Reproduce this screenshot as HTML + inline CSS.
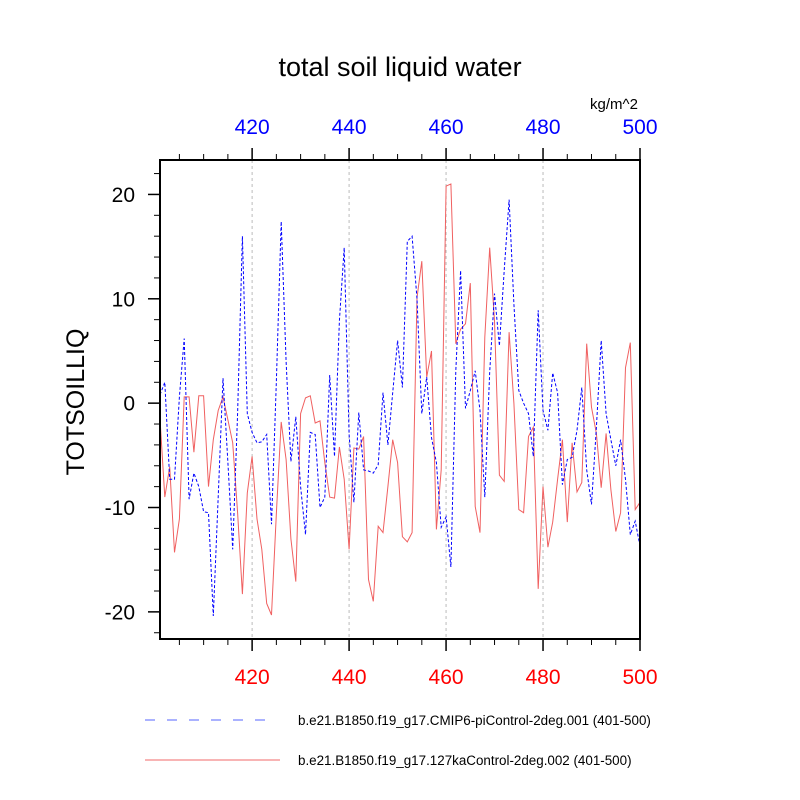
<!DOCTYPE html>
<html><head><meta charset="utf-8"><style>
body{margin:0;background:#fff;}
svg{display:block;font-family:"Liberation Sans",sans-serif;}
</style></head><body>
<svg id="chart" width="800" height="800" viewBox="0 0 800 800">
<text x="400" y="76" text-anchor="middle" font-size="27">total soil liquid water</text>
<text x="614" y="109" text-anchor="middle" font-size="15">kg/m^2</text>
<text transform="translate(84,402) rotate(-90)" text-anchor="middle" font-size="25">TOTSOILLIQ</text>
<g id="grid"></g>
<g id="series"></g>
<rect x="160" y="160" width="480" height="479" fill="none" stroke="#000" stroke-width="2"/>
<g id="axes"></g>
<g>
<line x1="145" y1="720" x2="275" y2="720" stroke="#5566ff" stroke-width="1" stroke-dasharray="10,12"/>
<text x="298" y="725" font-size="13.4">b.e21.B1850.f19_g17.CMIP6-piControl-2deg.001 (401-500)</text>
<line x1="145" y1="760" x2="280" y2="760" stroke="#f06868" stroke-width="1"/>
<text x="298" y="765" font-size="13.4">b.e21.B1850.f19_g17.127kaControl-2deg.002 (401-500)</text>
</g>
</svg>
<script>
const years = Array.from({length:100},(_,i)=>401+i);
const piControl = [0.8,2,-7.3,-7.3,0.6,6.2,-9.2,-6.7,-8,-10.4,
-10.5,-20.4,-9,2.4,-5.7,-14,-1,16,-1,-2.8,
-3.8,-3.7,-3,-11.6,2.2,17.4,4,-5.6,-1.3,-8,
-12.6,-2.8,-3,-10,-9,2.7,-5.1,7.9,14.9,-3,
-9.5,-0.9,-6.4,-6.5,-6.7,-5.9,1,-4,1,6,
1.5,15.5,16,10,-1,2.5,-3.3,-5.7,-11.9,-10.9,
-15.7,3.1,12.7,-0.5,1.2,3.1,-0.7,-9,3,10.5,
5.5,12.7,19.5,9.5,1.2,0,-1,-5.1,8.9,-0.7,
-2.6,2.9,1,-7.8,-5.4,-5.2,-2.6,1.5,-6.4,-9.7,
-2.3,6,-1,-3.5,-6,-3.5,-7.3,-12.6,-11.3,-13.7];
const ka127 = [-1.5,-9,-6.1,-14.3,-11.1,0.6,0.6,-4.7,0.7,0.7,
-8,-3.5,-0.7,0.6,-1.6,-3.8,-10.5,-18.3,-8.6,-5.1,
-11.1,-14,-19.2,-20.3,-10.5,-1.8,-5.4,-13,-17.1,-1,
0.5,0.7,-1.9,-1.7,-5.7,-9,-9.1,-4.2,-7.3,-14,
-4.3,-4.4,-3.2,-16.9,-19,-11.8,-12.4,-8,-3.5,-5.7,
-12.8,-13.3,-12.4,10.1,13.6,2.5,5,-12.1,-6.4,20.8,
21,5.7,7.1,7.6,11.5,-9.9,-12.4,6.3,14.9,7.9,
-6.9,-7.5,6.8,0,-10.2,-10.5,-3.2,-2.3,-17.8,-8,
-13.8,-11.4,-7.3,-3.5,-11.4,-3.8,-8.5,-7.6,5.7,-0.4,
-2.9,-8.1,-2.9,-8.3,-12.3,-10.5,3.4,5.8,-10.2,-9.5];
const xTicks = [420,440,460,480,500];
const yTicks = [-20,-10,0,10,20];

const NS="http://www.w3.org/2000/svg";
const X0=160,X1=640,Y0=639,Y1=160,XMIN=401,XMAX=500,YMIN=-22.6,YMAX=23.3;
const sx=v=>X0+(v-XMIN)/(XMAX-XMIN)*(X1-X0);
const sy=v=>Y0-(v-YMIN)/(YMAX-YMIN)*(Y0-Y1);
function mk(tag,attrs,parent){const e=document.createElementNS(NS,tag);for(const k in attrs)e.setAttribute(k,attrs[k]);parent.appendChild(e);return e;}
const grid=document.getElementById('grid'),series=document.getElementById('series'),axes=document.getElementById('axes');

xTicks.forEach(t=>{
  if(t<XMAX){
    const g=mk('line',{x1:sx(t),x2:sx(t),y1:Y1,y2:Y0,stroke:'#bbb','stroke-width':1,'stroke-dasharray':'3,3'},grid);
    
    
  }
  const a=mk('line',{x1:sx(t),x2:sx(t),y1:Y0,y2:Y0+12,stroke:'#000','stroke-width':1.5},axes);
  
  
  const b=mk('line',{x1:sx(t),x2:sx(t),y1:Y1,y2:Y1-12,stroke:'#000','stroke-width':1.5},axes);
  
  
  const lb=mk('text',{x:sx(t),y:684,'text-anchor':'middle','font-size':21,fill:'#ff0000'},axes);
  lb.textContent=t;
  
  
  const lt=mk('text',{x:sx(t),y:134,'text-anchor':'middle','font-size':21,fill:'#0000ff'},axes);
  lt.textContent=t;
  
  
});
for(let t=405;t<XMAX;t+=5){
  if(t%20===0)continue;
  [[Y0,Y0+6],[Y1,Y1-6]].forEach(([a,b])=>{
    const m=mk('line',{x1:sx(t),x2:sx(t),y1:a,y2:b,stroke:'#000','stroke-width':1},axes);
    
    
  });
}
for(let t=-22;t<=22;t+=2){
  const major=t%10===0;
  const m=mk('line',{x1:X0,x2:X0-(major?12:6),y1:sy(t),y2:sy(t),stroke:'#000','stroke-width':major?1.5:1},axes);
  
  
}
yTicks.forEach(t=>{
  const l=mk('text',{x:135,y:sy(t)+7.5,'text-anchor':'end','font-size':21},axes);
  l.textContent=t;
  
  
});
function line(vals,stroke,dash,name){
  const pts=vals.map((v,i)=>sx(years[i]).toFixed(1)+','+sy(v).toFixed(1)).join(' ');
  const p=mk('polyline',{points:pts,fill:'none',stroke:stroke,'stroke-width':1,'stroke-dasharray':dash},series);
  
  
}
line(ka127,'#f06060','none','series-127ka-line');
line(piControl,'#0000ff','3,2','series-picontrol-line');
</script>
</body></html>
